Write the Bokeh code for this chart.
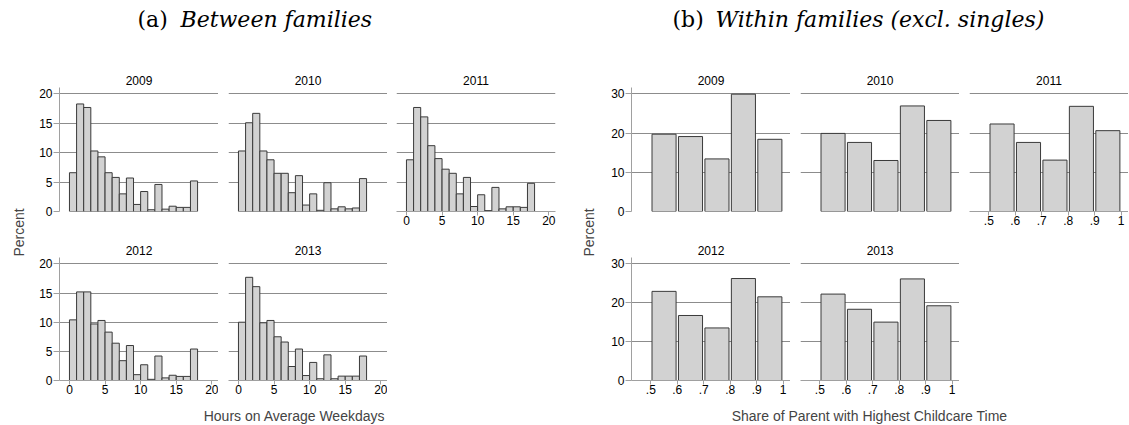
import numpy as np
from bokeh.plotting import figure
from bokeh.models import Range1d, FixedTicker, Label, Spacer, Grid
from bokeh.layouts import row, column
from bokeh.embed import file_html
from bokeh.resources import INLINE

# ---------------- data ----------------
years = ["2009", "2010", "2011", "2012", "2013"]

hour_edges = list(range(0, 19))
hours_2009 = [6.6, 18.3, 17.7, 10.3, 9.3, 6.6, 5.8, 3.0, 5.7, 1.2, 3.4, 0.3, 4.6, 0.4, 0.9, 0.7, 0.7, 5.2]
hours_2010 = [10.3, 15.1, 16.7, 10.3, 8.8, 6.5, 6.5, 3.2, 6.1, 1.1, 3.0, 0.2, 4.9, 0.45, 0.8, 0.45, 0.6, 5.6]
hours_2011 = [8.8, 17.7, 16.1, 11.2, 9.0, 7.2, 6.5, 3.0, 5.8, 0.85, 2.85, 0.15, 4.1, 0.45, 0.8, 0.8, 0.7, 4.8]
hours_2012 = [10.4, 15.2, 15.2, 9.7, 10.3, 8.3, 6.4, 3.4, 6.0, 1.0, 2.7, 0.2, 4.2, 0.45, 0.9, 0.7, 0.7, 5.4]
hours_2013 = [10.0, 17.7, 16.1, 9.9, 10.3, 7.5, 6.6, 2.4, 5.4, 0.85, 3.1, 0.3, 4.4, 0.3, 0.75, 0.75, 0.75, 4.2]

share_edges = [0.5, 0.6, 0.7, 0.8, 0.9, 1.0]
share_2009 = [19.7, 19.1, 13.4, 29.9, 18.4]
share_2010 = [19.9, 17.6, 13.0, 26.9, 23.2]
share_2011 = [22.3, 17.6, 13.1, 26.8, 20.6]
share_2012 = [22.9, 16.7, 13.5, 26.2, 21.5]
share_2013 = [22.2, 18.3, 15.0, 26.1, 19.2]

hour_ticks = [0, 5, 10, 15, 20]
hour_tick_labels = ["0", "5", "10", "15", "20"]
share_ticks = [0.5, 0.6, 0.7, 0.8, 0.9, 1.0]
share_tick_labels = [".5", ".6", ".7", ".8", ".9", "1"]
pct_ticks_left = [0, 5, 10, 15, 20]
pct_ticks_right = [0, 10, 20, 30]

title_a = ("(a)", "Between families")
title_b = ("(b)", "Within families (excl. singles)")
ylabel = "Percent"
xlabel_a = "Hours on Average Weekdays"
xlabel_b = "Share of Parent with Highest Childcare Time"

# ---------------- style ----------------
SANS = "Liberation Sans"
SERIF = "DejaVu Serif"
FILL = "#d2d2d2"
EDGE = "#3a3a3a"
GRID = "#8c8c8c"
AXIS = "#a0a0a0"
FW = 159
FH_TOP, FH_BOT = 124, 123


def blank(w, h):
    p = figure(width=w, height=h, x_range=Range1d(0, w), y_range=Range1d(h, 0),
               output_backend="svg", toolbar_location=None, tools="",
               x_axis_location=None, y_axis_location=None,
               min_border=0)
    p.outline_line_color = None
    p.xgrid.visible = False
    p.ygrid.visible = False
    p.background_fill_color = "white"
    p.border_fill_color = "white"
    return p


def panel(kind, vals, title, bl, br, bt, fh, bb, show_x, show_y):
    if kind == "hours":
        xr, yr = (-1.4, 20.94), (0, 21.1)
        yt, xt, xl = pct_ticks_left, hour_ticks, hour_tick_labels
    else:
        xr, yr = (0.427, 1.028), (0, 31.6)
        yt, xt, xl = pct_ticks_right, share_ticks, share_tick_labels
    p = figure(width=bl + FW + br, height=bt + fh + bb,
               x_range=Range1d(*xr), y_range=Range1d(*yr),
               output_backend="svg", toolbar_location=None, tools="",
               x_axis_location="below" if show_x else None,
               y_axis_location="left" if show_y else None,
               min_border_left=bl, min_border_right=br,
               min_border_top=bt, min_border_bottom=bb, title=title)
    p.outline_line_color = None
    p.background_fill_color = "white"
    p.border_fill_color = "white"
    p.xgrid.visible = False
    p.ygrid.visible = False
    g = Grid(dimension=1, ticker=FixedTicker(ticks=yt), grid_line_color=GRID,
             grid_line_width=1)
    p.add_layout(g, "center")

    p.title.align = "center"
    p.title.text_font = SANS
    p.title.text_font_size = "12px"
    p.title.text_font_style = "normal"
    p.title.text_color = "black"
    p.title.standoff = 5

    if kind == "hours":
        p.quad(left=hour_edges[:-1], right=hour_edges[1:], top=vals, bottom=0,
               fill_color=FILL, line_color=EDGE, line_width=1)
    else:
        centers = [(a + b) / 2 for a, b in zip(share_edges[:-1], share_edges[1:])]
        p.vbar(x=centers, width=0.091, top=vals, bottom=0,
               fill_color=FILL, line_color=EDGE, line_width=1)

    if show_y:
        ax = p.yaxis[0]
        ax.ticker = FixedTicker(ticks=yt)
        ax.axis_line_color = AXIS
        ax.major_tick_line_color = AXIS
        ax.major_tick_out = 6
        ax.major_tick_in = 0
        ax.minor_tick_line_color = None
        ax.major_label_standoff = 1
        ax.major_label_text_font = SANS
        ax.major_label_text_font_size = "12px"
        ax.major_label_text_color = "black"
    if show_x:
        ax = p.xaxis[0]
        ax.ticker = FixedTicker(ticks=xt)
        ax.major_label_overrides = {t: l for t, l in zip(xt, xl)}
        ax.axis_line_color = AXIS
        ax.major_tick_line_color = AXIS
        ax.major_tick_out = 4
        ax.major_tick_in = 0
        ax.minor_tick_line_color = None
        ax.major_label_standoff = 0
        ax.major_label_text_font = SANS
        ax.major_label_text_font_size = "12px"
        ax.major_label_text_color = "black"
    return p


TOTAL_W = 1128
HEAD_H = 56
TOP_BT, TOP_BB = 31, 23
BOT_BT, BOT_BB = 23, 22
FOOT_H = 22
TOP_H = TOP_BT + FH_TOP + TOP_BB
BOT_H = BOT_BT + FH_BOT + BOT_BB

# header with panel titles
head = blank(TOTAL_W, HEAD_H)
for (lab, txt), x0, x1 in [(title_a, 137, 180), (title_b, 672, 715)]:
    head.add_layout(Label(x=x0, y=19, text=lab, text_font=SERIF, text_font_size="22px",
                          text_align="left", text_baseline="middle", text_color="black"))
    head.add_layout(Label(x=x1, y=19, text=txt, text_font=SERIF, text_font_size="22px",
                          text_font_style="italic", text_align="left",
                          text_baseline="middle", text_color="black"))

# y-label columns
mid_h = TOP_H + BOT_H
PL_W, PR_W = 28, 42
percL = blank(PL_W, mid_h)
percL.add_layout(Label(x=18, y=176, text=ylabel, angle=np.pi / 2, text_font=SANS,
                       text_font_size="14px", text_align="center", text_baseline="middle"))
percR = blank(PR_W, mid_h)
percR.add_layout(Label(x=29, y=176, text=ylabel, angle=np.pi / 2, text_font=SANS,
                       text_font_size="14px", text_align="center", text_baseline="middle"))

# left panel (hours)
L09 = panel("hours", hours_2009, years[0], 31, 0, TOP_BT, FH_TOP, TOP_BB, False, True)
L10 = panel("hours", hours_2010, years[1], 10, 0, TOP_BT, FH_TOP, TOP_BB, False, False)
L11 = panel("hours", hours_2011, years[2], 9, 4, TOP_BT, FH_TOP, TOP_BB, True, False)
L12 = panel("hours", hours_2012, years[3], 31, 0, BOT_BT, FH_BOT, BOT_BB, True, True)
L13 = panel("hours", hours_2013, years[4], 10, 0, BOT_BT, FH_BOT, BOT_BB, True, False)

# right panel (share)
R09 = panel("share", share_2009, years[0], 30, 0, TOP_BT, FH_TOP, TOP_BB, False, True)
R10 = panel("share", share_2010, years[1], 10, 0, TOP_BT, FH_TOP, TOP_BB, False, False)
R11 = panel("share", share_2011, years[2], 10, 0, TOP_BT, FH_TOP, TOP_BB, True, False)
R12 = panel("share", share_2012, years[3], 30, 0, BOT_BT, FH_BOT, BOT_BB, True, True)
R13 = panel("share", share_2013, years[4], 10, 0, BOT_BT, FH_BOT, BOT_BB, True, False)

left_grid = column(row(L09, L10, L11, spacing=0),
                   row(L12, L13, Spacer(width=9 + FW + 4, height=BOT_H), spacing=0), spacing=0)
right_grid = column(row(R09, R10, R11, spacing=0),
                    row(R12, R13, Spacer(width=10 + FW, height=BOT_H), spacing=0), spacing=0)

# footer with x labels
foot = blank(TOTAL_W, FOOT_H)
foot.add_layout(Label(x=294, y=13, text=xlabel_a, text_font=SANS, text_font_size="14px",
                      text_align="center", text_baseline="middle"))
foot.add_layout(Label(x=869, y=13, text=xlabel_b, text_font=SANS, text_font_size="14px",
                      text_align="center", text_baseline="middle"))

layout = column(head, row(percL, left_grid, percR, right_grid, spacing=0), foot, spacing=0)

open("out.html", "w").write(file_html(layout, INLINE))
